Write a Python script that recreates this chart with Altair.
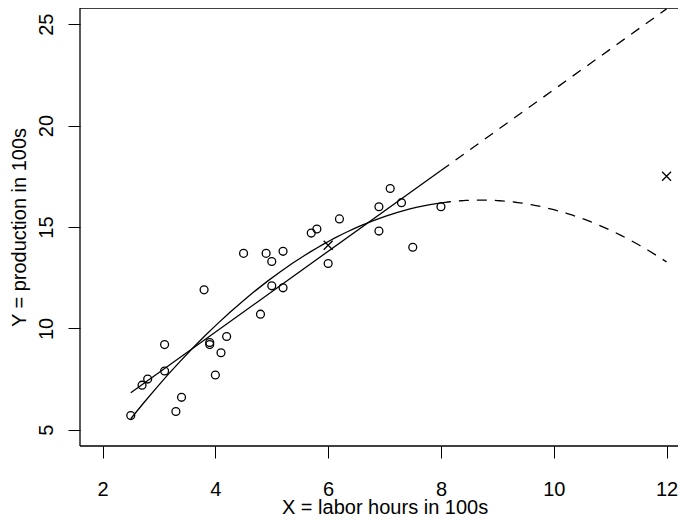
import altair as alt
import pandas as pd

labor_x = [2.5, 2.7, 2.8, 3.1, 3.1, 3.3, 3.4, 3.8, 3.9, 3.9, 4.0, 4.1, 4.2, 4.5, 4.8,
           4.9, 5.0, 5.0, 5.2, 5.2, 5.7, 5.8, 6.0, 6.2, 6.9, 6.9, 7.1, 7.3, 7.5, 8.0]
prod_y = [5.7, 7.2, 7.5, 9.2, 7.9, 5.9, 6.6, 11.9, 9.3, 9.2, 7.7, 8.8, 9.6, 13.7, 10.7,
          13.7, 13.3, 12.1, 13.8, 12.0, 14.7, 14.9, 13.2, 15.4, 16.0, 14.8, 16.9, 16.2, 14.0, 16.0]

# Extra marked points ("x" symbols)
cross_x = [6.0, 12.0]
cross_y = [14.1, 17.5]

x_ticks = [2, 4, 6, 8, 10, 12]
y_ticks = [5, 10, 15, 20, 25]

fit_range = [2.5, 8.0]
extrap_range = [8.0, 12.0]

pts = pd.DataFrame({"x": labor_x, "y": prod_y})
crosses = pd.DataFrame({"x": cross_x, "y": cross_y})

W = 598
H = 438
PX_PER_X = 56.4
FONT = "Liberation Sans"
FS = 20

xsc = alt.Scale(domain=[1.6, 1.6 + W / PX_PER_X], nice=False, zero=False)
ysc = alt.Scale(domain=[4.2, 25.8], nice=False, zero=False)

x_axis = alt.Axis(values=x_ticks, title="X = labor hours in 100s", grid=False, domain=False,
                  tickSize=12, tickColor="black", tickWidth=1,
                  labelFontSize=FS, labelFont=FONT, labelColor="black", labelPadding=21,
                  titleFontSize=FS, titleFont=FONT, titleColor="black", titleFontWeight="normal",
                  titleBaseline="alphabetic", titleX=(12.4 - 1.6) * PX_PER_X / 2, titleY=67,
                  titleAlign="center")
y_axis = alt.Axis(values=y_ticks, title="Y = production in 100s", grid=False, domain=False,
                  tickSize=12, tickColor="black", tickWidth=1,
                  labelFontSize=FS, labelFont=FONT, labelColor="black", labelPadding=16,
                  labelAngle=-90, labelAlign="center", labelBaseline="alphabetic",
                  titleFontSize=FS, titleFont=FONT, titleColor="black", titleFontWeight="normal",
                  titleAngle=-90, titleBaseline="alphabetic", titleAlign="center",
                  titleX=-55, titleY=H / 2)

X = alt.X("x:Q", scale=xsc, axis=x_axis)
Y = alt.Y("y:Q", scale=ysc, axis=y_axis)

base = alt.Chart(pts)

points = base.mark_point(shape="circle", filled=False, color="black", size=62,
                         strokeWidth=1.3, opacity=1).encode(x=X, y=Y)

lin_solid = base.transform_regression("x", "y", method="linear", extent=fit_range).mark_line(
    color="black", strokeWidth=1.3).encode(x=X, y=Y)
lin_dash = base.transform_regression("x", "y", method="linear", extent=extrap_range).mark_line(
    color="black", strokeWidth=1.3, strokeDash=[10, 8]).encode(x=X, y=Y)
quad_solid = base.transform_regression("x", "y", method="poly", order=2, extent=fit_range).mark_line(
    color="black", strokeWidth=1.3).encode(x=X, y=Y)
quad_dash = base.transform_regression("x", "y", method="poly", order=2, extent=extrap_range).mark_line(
    color="black", strokeWidth=1.3, strokeDash=[10, 8]).encode(x=X, y=Y)

cross_marks = alt.Chart(crosses).mark_point(shape="M-1,-1L1,1M-1,1L1,-1", filled=False,
                                            color="black", size=80, strokeWidth=1.3,
                                            opacity=1).encode(x=X, y=Y)

one = pd.DataFrame({"b": [0]})
# white cover over the view's right edge (the frame's right side lies beyond the picture)
edge_cover = alt.Chart(one).mark_rule(color="white", strokeWidth=4).encode(
    x=alt.value(W), y=alt.value(-2), y2=alt.value(H + 2))
# plot frame: top, left and bottom sides
frame_top = alt.Chart(one).mark_rule(color="black", strokeWidth=1.3).encode(
    x=alt.value(0), x2=alt.value(W + 10), y=alt.value(0))
frame_bottom = alt.Chart(one).mark_rule(color="black", strokeWidth=1.3).encode(
    x=alt.value(0), x2=alt.value(W + 10), y=alt.value(H))
frame_left = alt.Chart(one).mark_rule(color="black", strokeWidth=1.3).encode(
    x=alt.value(0), y=alt.value(0), y2=alt.value(H))

chart = alt.layer(edge_cover, frame_top, frame_bottom, frame_left, lin_solid, lin_dash,
                  quad_solid, quad_dash, points, cross_marks).properties(
    width=W, height=H,
    autosize=alt.AutoSizeParams(type="none"),
    padding={"left": 72, "top": 0, "right": 0, "bottom": 75},
    background="white",
).configure_view(strokeWidth=0, stroke="transparent")

chart.save("out.html", embed_options={"renderer": "svg", "actions": False})
